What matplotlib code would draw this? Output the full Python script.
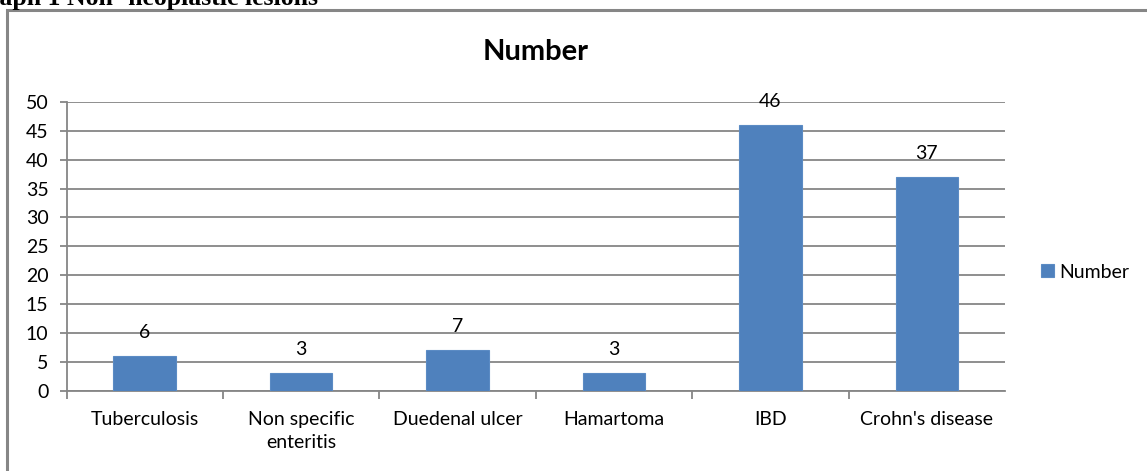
import matplotlib
matplotlib.use("Agg")
import matplotlib.pyplot as plt
from matplotlib.patches import Rectangle

categories = ["Tuberculosis", "Non specific\nenteritis", "Duedenal ulcer", "Hamartoma", "IBD", "Crohn's disease"]
values = [6, 3, 7, 3, 46, 37]
yticks = [0, 5, 10, 15, 20, 25, 30, 35, 40, 45, 50]
series_name = "Number"
title = "Number"
caption = "Graph 1 Non- neoplastic lesions"

W, H = 1147, 471
fig = plt.figure(figsize=(W / 100, H / 100), dpi=100)
fig.patch.set_facecolor("white")

font = ["Lato", "DejaVu Sans"]
gray = "#868686"
bar_color = "#4F81BD"
fs = 14

# outer chart border (extends beyond right/bottom)
fig.patches.append(Rectangle((7.5 / W, -0.1), 1.2, 1 - 9.5 / H + 0.1, transform=fig.transFigure,
                             fill=False, edgecolor=gray, linewidth=2.2))

# cropped document caption (top of it is outside the picture, as in the source)
fig.text(-32 / W, 1 - 4.5 / H, caption, fontsize=18.5, fontweight="bold", family="Liberation Serif",
         ha="left", va="baseline", color="black")

x0, x1 = 66.5, 1005
y0, y1 = 390.5, 102
ax = fig.add_axes([x0 / W, 1 - y0 / H, (x1 - x0) / W, (y0 - y1) / H])
positions = list(range(len(categories)))
bars = ax.bar(positions, values, width=0.4, color=bar_color, edgecolor="#5b8bc4", linewidth=0.8,
              zorder=3, label=series_name)
ax.set_xlim(-0.5, len(categories) - 0.5)
ax.set_ylim(0, 50)
ax.set_yticks(yticks)
ax.set_yticklabels([str(t) for t in yticks], family=font, fontsize=fs)
ax.yaxis.grid(True, color=gray, linewidth=1.3, zorder=0)
ax.set_axisbelow(True)
for s in ["top", "right"]:
    ax.spines[s].set_visible(False)
for s in ["left", "bottom"]:
    ax.spines[s].set_color(gray)
    ax.spines[s].set_linewidth(1.3)
ax.tick_params(axis="y", length=5, width=1.3, color=gray, pad=8)
ax.set_xticks([p + 0.5 for p in positions[:-1]] + [-0.5], minor=True)
ax.set_xticks(positions)
ax.set_xticklabels(categories, family=font, fontsize=fs, linespacing=1.4)
ax.tick_params(axis="x", which="major", length=0, pad=15)
ax.tick_params(axis="x", which="minor", length=6, width=1.3, color=gray)

for b, v in zip(bars, values):
    ax.annotate(str(v), (b.get_x() + b.get_width() / 2, v), xytext=(0, 13), textcoords="offset points",
                ha="center", va="baseline", family=font, fontsize=fs)

fig.text((x0 + x1) / 2 / W, 1 - 52 / H, title, family=font, fontsize=21, fontweight="bold",
         ha="center", va="center")

leg = fig.legend(loc="center left", bbox_to_anchor=(1041 / W, 1 - 272 / H), frameon=False,
                 prop={"family": font, "size": fs}, handlelength=0.65, handleheight=0.65,
                 handletextpad=0.3, borderaxespad=0, borderpad=0)

fig.savefig("out.png", dpi=100)
